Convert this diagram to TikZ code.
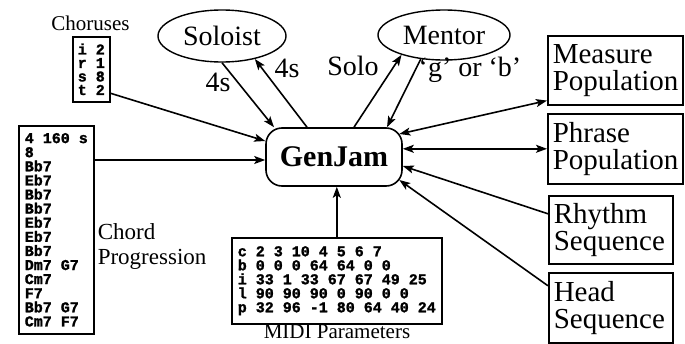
\documentclass[tikz,border=0pt]{standalone}
\usepackage{fontspec}
\setmainfont{Liberation Serif}
\setmonofont{Liberation Mono}[BoldFeatures={FakeBold=1.5}]
\usetikzlibrary{arrows.meta,shapes.geometric,calc}
\begin{document}
\begin{tikzpicture}[x=1pt,y=-1pt,
  line width=1.6pt,
  >={Stealth[length=11pt,width=8pt,inset=2.5pt]},
  ell/.style={draw, ellipse, line width=1.4pt, inner sep=0pt, font=\fontsize{28}{28}\selectfont},
  rbox/.style={draw, rectangle, line width=1.6pt, align=left, inner xsep=5pt, inner ysep=0pt,
    font=\fontsize{29}{27}\selectfont, anchor=north west},
  mbox/.style={draw, rectangle, line width=1.6pt, align=left, anchor=north west, inner sep=0pt},
  lbl/.style={inner sep=0pt, font=\fontsize{28}{28}\selectfont},
]
\useasboundingbox (0,0) rectangle (685,343);

% nodes
\node[draw, rectangle, rounded corners=16pt, minimum width=136pt, minimum height=58pt,
  font=\bfseries\fontsize{30}{30}\selectfont] (genjam) at (334,157) {GenJam};

\node[ell, minimum width=128pt, minimum height=52pt] (soloist) at (222,36) {Soloist};
\node[ell, minimum width=132pt, minimum height=50pt] (mentor) at (444,35) {Mentor};

\node[rbox, minimum width=135pt, minimum height=69pt, text width=125pt] (measure) at (547,35) {Measure\\Population};
\node[rbox, minimum width=135pt, minimum height=70pt, text width=125pt] (phrase) at (547,113) {Phrase\\Population};
\node[rbox, minimum width=124pt, minimum height=68pt, text width=114pt] (rhythm) at (548,195) {Rhythm\\Sequence};
\node[rbox, minimum width=124pt, minimum height=70pt, text width=114pt] (head) at (548,272) {Head\\Sequence};

\node[mbox, minimum width=37pt, minimum height=65pt,
  font=\ttfamily\bfseries\fontsize{15}{13.5}\selectfont] (chorus) at (72,36)
  {i 2\\r 1\\s 8\\t 2};
\node[inner sep=0pt, font=\fontsize{21}{21}\selectfont] (choruslbl) at (90.5,23) {Choruses};

\node[mbox, minimum width=75pt, minimum height=208pt,
  font=\ttfamily\bfseries\fontsize{15}{14.1}\selectfont] (chord) at (18,125)
  {4 160 s\\8\\Bb7\\Eb7\\Bb7\\Bb7\\Eb7\\Eb7\\Bb7\\Dm7 G7\\Cm7\\F7\\Bb7 G7\\Cm7 F7};
\node[inner sep=0pt, align=left, anchor=west, font=\fontsize{23}{25}\selectfont] (chordlbl) at (97,246)
  {Chord\\Progression};

\node[mbox, minimum width=210pt, minimum height=86pt,
  font=\ttfamily\bfseries\fontsize{15}{14}\selectfont] (midi) at (231,237)
  {c 2 3 10 4 5 6 7\\b 0 0 0 64 64 0 0\\i 33 1 33 67 67 49 25\\l 90 90 90 0 90 0 0\\p 32 96 -1 80 64 40 24};
\node[inner sep=0pt, font=\fontsize{21}{21}\selectfont] (midilbl) at (337,332) {MIDI Parameters};

% edge labels
\node[lbl] (l4a) at (218,82) {4s};
\node[lbl] (l4b) at (287,68) {4s};
\node[lbl] (lsolo) at (353,66) {Solo};
\node[lbl] (lgb) at (470,70) {‘g’ or ‘b’};

% connectors
\draw[->] (soloist.south) -- ([xshift=-60pt]genjam.north);
\draw[->] ([xshift=-27pt]genjam.north) -- (soloist.-35);
\draw[->] ([xshift=20pt]genjam.north) -- (mentor.-155);
\draw[->] (mentor.-134) -- ([xshift=53pt]genjam.north);

\draw[<->] ([shift={(-3.5pt,23pt)}]genjam.east) -- ([yshift=5pt]measure.south west);
\draw[<->] (genjam.east |- phrase.west) -- (phrase.west);
\draw[->] ([yshift=16pt]rhythm.west) -- ([yshift=-9pt]genjam.east);
\draw[->] ([yshift=22pt]head.west) -- ([shift={(-3.5pt,-23pt)}]genjam.east);

\draw[->] ([yshift=-24pt]chorus.east) -- ([yshift=16pt]genjam.west);
\coordinate (gw) at ([yshift=-3pt]genjam.west);
\draw[->] (chord.east |- gw) -- (gw);
\draw[->] (midi.north) -- (midi.north |- genjam.south);
\end{tikzpicture}
\end{document}
